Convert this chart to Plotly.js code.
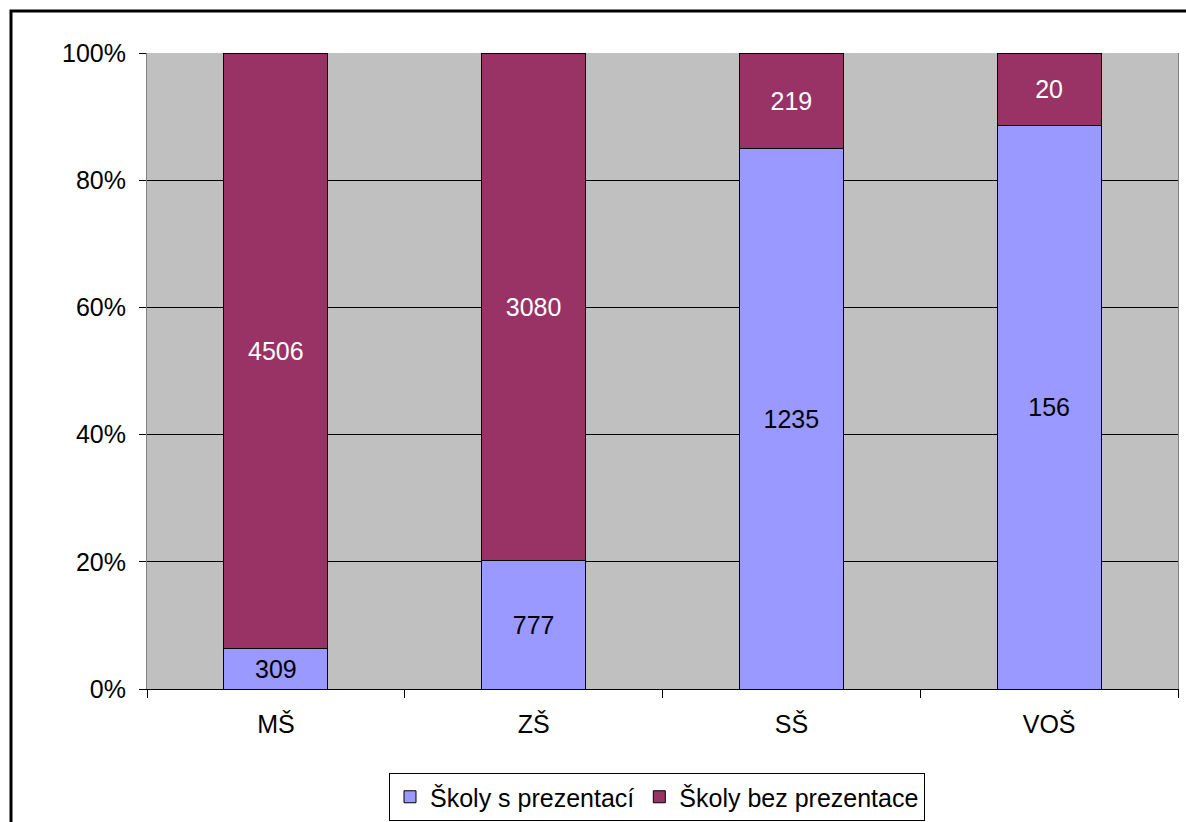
<!DOCTYPE html>
<html>
<head>
<meta charset="utf-8">
<script src="https://cdn.plot.ly/plotly-3.0.1.min.js"></script>
<style>
html,body{margin:0;padding:0;background:#fff;}
#chart{width:1186px;height:822px;}
</style>
</head>
<body>
<div id="chart"></div>
<script>
const categories = ['MŠ', 'ZŠ', 'SŠ', 'VOŠ'];
const withPresentation = [309, 777, 1235, 156];
const withoutPresentation = [4506, 3080, 219, 20];
const seriesNames = ['Školy s prezentací', 'Školy bez prezentace'];

const font = 'Liberation Sans, Arial, sans-serif';
const FS = 25;

const traces = [
  {
    type: 'bar', name: seriesNames[0], x: categories, y: withPresentation,
    text: withPresentation.map(String), textposition: 'inside', insidetextanchor: 'middle',
    textangle: 0, constraintext: 'none',
    textfont: {family: font, size: FS, color: '#000'},
    marker: {color: '#9999FF', line: {color: '#000', width: 1}},
    hoverinfo: 'none'
  },
  {
    type: 'bar', name: seriesNames[1], x: categories, y: withoutPresentation,
    text: withoutPresentation.map(String), textposition: 'inside', insidetextanchor: 'middle',
    textangle: 0, constraintext: 'none',
    textfont: {family: font, size: FS, color: '#fff'},
    marker: {color: '#993366', line: {color: '#000', width: 1}},
    hoverinfo: 'none'
  }
];

const L = 147, R = 8, T = 53, B = 133, W = 1186, H = 822;
const pw = W - L - R, ph = H - T - B;
const px = v => (v - L) / pw;
const py = v => (H - B - v) / ph;

const layout = {
  width: W, height: H,
  margin: {l: L, r: R, t: T, b: B, pad: 0, autoexpand: false},
  paper_bgcolor: '#fff',
  plot_bgcolor: '#C0C0C0',
  barmode: 'stack',
  barnorm: 'percent',
  bargap: 0.597,
  font: {family: font, size: FS, color: '#000'},
  showlegend: true,
  legend: {
    orientation: 'h', x: px(389), xanchor: 'left', y: py(773), yanchor: 'top',
    traceorder: 'normal',
    bgcolor: '#fff', bordercolor: '#000', borderwidth: 1,
    font: {family: font, size: FS, color: '#000'},
    itemwidth: 30, tracegroupgap: 0
  },
  xaxis: {
    type: 'category', automargin: false,
    showgrid: false, zeroline: false,
    showline: true, linecolor: '#000', linewidth: 1,
    ticks: 'outside', tickson: 'boundaries', ticklen: 8, tickcolor: '#000',
    ticklabelstandoff: 13,
    tickfont: {family: font, size: FS, color: '#000'},
    fixedrange: true
  },
  yaxis: {
    range: [0, 100], automargin: false,
    tickvals: [0, 20, 40, 60, 80, 100],
    ticktext: ['0%', '20%', '40%', '60%', '80%', '100%'],
    showgrid: true, gridcolor: '#000', gridwidth: 1,
    zeroline: false,
    showline: true, linecolor: '#808080', linewidth: 1, mirror: true,
    ticks: 'outside', ticklen: 7, tickcolor: '#000',
    ticklabelstandoff: 8,
    tickfont: {family: font, size: FS, color: '#000'},
    fixedrange: true
  },
  shapes: [
    {type: 'rect', xref: 'paper', yref: 'paper',
     x0: px(11), x1: px(1195), y0: py(835), y1: py(11),
     line: {color: '#000', width: 3}, fillcolor: 'rgba(0,0,0,0)', layer: 'above'}
  ]
};

Plotly.newPlot('chart', traces, layout, {displayModeBar: false, staticPlot: true});
</script>
</body>
</html>
